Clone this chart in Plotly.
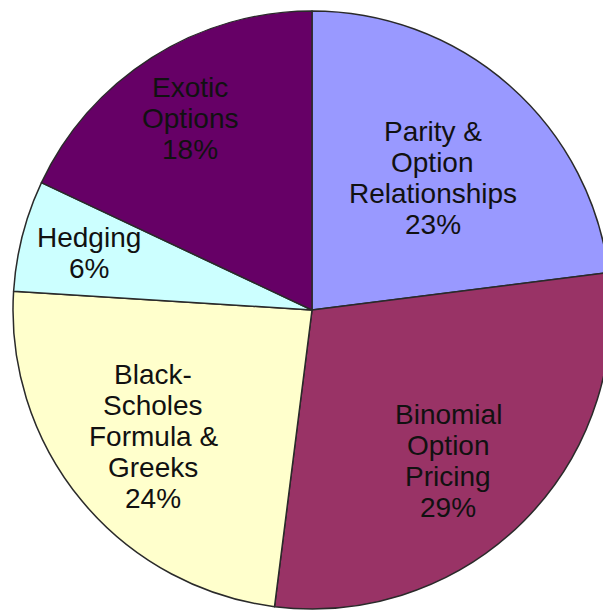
import math
import plotly.graph_objects as go

# ---- data ----
labels = ["Parity &<br>Option<br>Relationships", "Binomial<br>Option<br>Pricing",
          "Black-<br>Scholes<br>Formula &<br>Greeks", "Hedging", "Exotic<br>Options"]
values = [23, 29, 24, 6, 18]
colors = ["#9999FF", "#993366", "#FFFFCC", "#CCFFFF", "#660066"]

# ---- style / layout ----
W, H = 611, 616
dom_x = [5 / W, 603 / W]
dom_y = [15 / H, 1 - 3 / H]
label_radius_frac = [0.60, 0.68, 0.68, 0.77, 0.76]
label_angle_shift_deg = [1.0, 3.0, 1.0, 0.0, 0.0]
line_gap = 31
font_size = 28
font_family = "Liberation Sans, Arial, sans-serif"

fig = go.Figure(go.Pie(
    labels=[l.replace("<br>", " ") for l in labels],
    values=values,
    sort=False,
    direction="clockwise",
    rotation=0,
    marker=dict(colors=colors, line=dict(color="#2a2a2a", width=1.5)),
    textinfo="none",
    domain=dict(x=dom_x, y=dom_y),
    showlegend=False,
))

# pie geometry in pixels
cx = (dom_x[0] + dom_x[1]) / 2 * W
cy = (1 - (dom_y[0] + dom_y[1]) / 2) * H
R = min((dom_x[1] - dom_x[0]) * W, (dom_y[1] - dom_y[0]) * H) / 2

total = sum(values)
cum = 0
annotations = []
for lab, v, frac, dA in zip(labels, values, label_radius_frac, label_angle_shift_deg):
    mid = (cum + v / 2) / total * 2 * math.pi + math.radians(dA)
    cum += v
    px = cx + frac * R * math.sin(mid)
    py = cy - frac * R * math.cos(mid)
    lines = lab.split("<br>") + [f"{round(v / total * 100)}%"]
    n = len(lines)
    for i, t in enumerate(lines):
        annotations.append(dict(
            x=px / W, y=1 - py / H, xref="paper", yref="paper",
            text=t, showarrow=False, xanchor="center", yanchor="middle",
            yshift=((n - 1) / 2 - i) * line_gap,
            font=dict(family=font_family, size=font_size, color="#111111"),
        ))

fig.update_layout(
    width=W, height=H,
    margin=dict(l=0, r=0, t=0, b=0),
    paper_bgcolor="white",
    plot_bgcolor="white",
    annotations=annotations,
)

fig.write_html("out.html")
